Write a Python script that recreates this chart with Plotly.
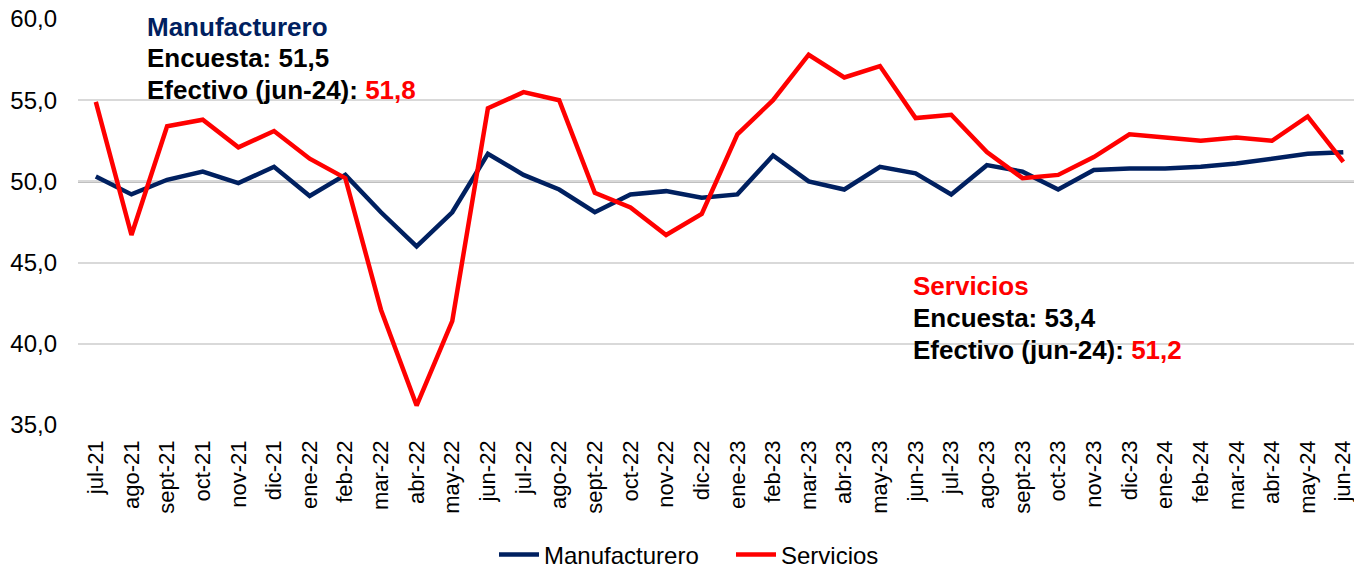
import plotly.graph_objects as go

months = ["jul-21", "ago-21", "sept-21", "oct-21", "nov-21", "dic-21",
          "ene-22", "feb-22", "mar-22", "abr-22", "may-22", "jun-22",
          "jul-22", "ago-22", "sept-22", "oct-22", "nov-22", "dic-22",
          "ene-23", "feb-23", "mar-23", "abr-23", "may-23", "jun-23",
          "jul-23", "ago-23", "sept-23", "oct-23", "nov-23", "dic-23",
          "ene-24", "feb-24", "mar-24", "abr-24", "may-24", "jun-24"]

manufacturero = [50.3, 49.2, 50.1, 50.6, 49.9, 50.9,
                 49.1, 50.4, 48.1, 46.0, 48.1, 51.7,
                 50.4, 49.5, 48.1, 49.2, 49.4, 49.0,
                 49.2, 51.6, 50.0, 49.5, 50.9, 50.5,
                 49.2, 51.0, 50.6, 49.5, 50.7, 50.8,
                 50.8, 50.9, 51.1, 51.4, 51.7, 51.8]

servicios = [54.9, 46.7, 53.4, 53.8, 52.1, 53.1,
             51.4, 50.2, 42.1, 36.2, 41.4, 54.5,
             55.5, 55.0, 49.3, 48.4, 46.7, 48.0,
             52.9, 55.0, 57.8, 56.4, 57.1, 53.9,
             54.1, 51.8, 50.2, 50.4, 51.5, 52.9,
             52.7, 52.5, 52.7, 52.5, 54.0, 51.2]

encuesta_manuf = 51.5
encuesta_serv = 53.4

y_ticks = [35, 40, 45, 50, 55, 60]

NAVY = "#002060"
RED = "#FF0000"
FONT = "Liberation Sans, Arial, sans-serif"

# plot area in pixels (used to place the text boxes)
L, R, T, B = 78, 1354, 19, 425
W, H = R - L, B - T

x_idx = list(range(len(months)))


def coma(v):
    return f"{v:.1f}".replace(".", ",")


def px_x(px):
    return (px - L) / W


def px_y(py):
    return (B - py) / H


fig = go.Figure()
fig.add_trace(go.Scatter(x=x_idx, y=manufacturero, mode="lines", name="Manufacturero",
                         line=dict(color=NAVY, width=4.5)))
fig.add_trace(go.Scatter(x=x_idx, y=servicios, mode="lines", name="Servicios",
                         line=dict(color=RED, width=4.5)))

# reference line at 50
fig.add_shape(type="line", xref="paper", x0=0, x1=1, yref="y", y0=50, y1=50,
              line=dict(color="black", width=1.5), layer="below")


def text_block(x_px, y_centres, lines):
    for yc, txt in zip(y_centres, lines):
        fig.add_annotation(
            xref="paper", yref="paper", x=px_x(x_px), y=px_y(yc),
            xanchor="left", yanchor="middle", align="left", showarrow=False,
            font=dict(family=FONT, size=26, color="black"), text=txt,
        )


text_block(145, [27, 58, 90], [
    f"<b><span style='color:{NAVY}'>Manufacturero</span></b>",
    f"<b>Encuesta: {coma(encuesta_manuf)}</b>",
    f"<b>Efectivo (jun-24): <span style='color:{RED}'>{coma(manufacturero[-1])}</span></b>",
])
text_block(911, [286, 318, 350], [
    f"<b><span style='color:{RED}'>Servicios</span></b>",
    f"<b>Encuesta: {coma(encuesta_serv)}</b>",
    f"<b>Efectivo (jun-24): <span style='color:{RED}'>{coma(servicios[-1])}</span></b>",
])

fig.update_layout(
    width=1354, height=568,
    margin=dict(l=L, r=1354 - R, t=T, b=568 - B, autoexpand=False),
    paper_bgcolor="white", plot_bgcolor="white",
    separators=",.",
    font=dict(family=FONT, size=20, color="black"),
    showlegend=True,
    legend=dict(orientation="h", x=px_x(494), xanchor="left", y=-(555 - B) / H,
                yanchor="middle",
                font=dict(family=FONT, size=24, color="black"),
                entrywidth=182, entrywidthmode="pixels",
                itemwidth=40, traceorder="normal"),
    xaxis=dict(
        range=[-0.5, 35.3],
        tickmode="array", tickvals=x_idx, ticktext=months,
        tickangle=-90, tickfont=dict(size=22),
        showgrid=False, zeroline=False, showline=False, ticks="",
        ticklabelstandoff=10, automargin=False, ticklabeloverflow="allow",
    ),
    yaxis=dict(
        range=[35, 60], tickvals=y_ticks, tickformat=".1f",
        showgrid=True, gridcolor="#d9d9d9", gridwidth=1.5,
        zeroline=False, showline=False, ticks="",
        tickfont=dict(size=24), automargin=False,
        ticklabelstandoff=20,
    ),
)

fig.write_html("out.html")
